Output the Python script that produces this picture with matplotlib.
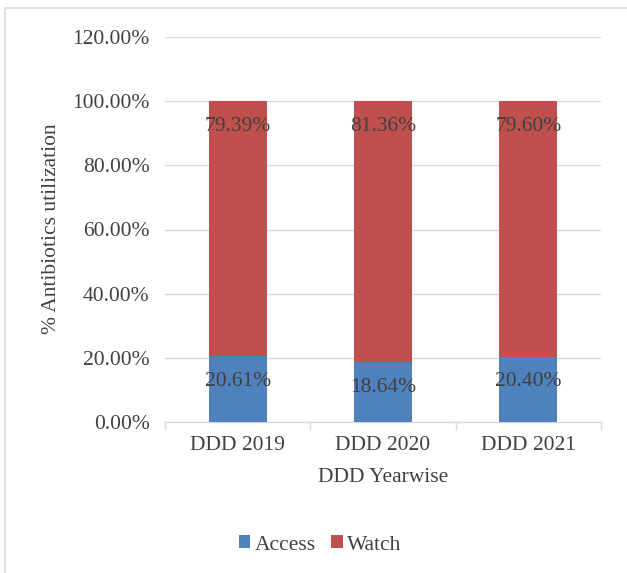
import matplotlib
matplotlib.use('Agg')
import matplotlib.pyplot as plt
from matplotlib.patches import Rectangle
from matplotlib.ticker import FuncFormatter

# antibiotic utilization share by year (percent of DDD)
years = ['DDD 2019', 'DDD 2020', 'DDD 2021']
access = [20.61, 18.64, 20.40]
watch = [79.39, 81.36, 79.60]

plt.rcParams['font.family'] = ['Liberation Serif', 'DejaVu Serif']
TEXT = '#404040'
BLUE = '#4F81BD'
RED = '#C0504D'
GRID = '#d9d9d9'
FS = 15.5

W, H = 627, 573
fig = plt.figure(figsize=(W / 100, H / 100), dpi=100)
ax = fig.add_axes([165 / W, 1 - 422 / H, 436 / W, (422 - 37) / H])

x = list(range(len(years)))
bw = 0.40
bars_a = ax.bar(x, access, bw, color=BLUE, label='Access', zorder=3)
bars_w = ax.bar(x, watch, bw, bottom=access, color=RED, label='Watch', zorder=3)

# labels sit just inside the top of each segment
off = 7.9
for rect, v in zip(bars_a, access):
    ax.text(rect.get_x() + rect.get_width() / 2, v - off, f'{v:.2f}%',
            ha='center', va='center', fontsize=FS, color=TEXT, zorder=4)
for rect, a, v in zip(bars_w, access, watch):
    ax.text(rect.get_x() + rect.get_width() / 2, a + v - off, f'{v:.2f}%',
            ha='center', va='center', fontsize=FS, color=TEXT, zorder=4)

ax.set_xlim(-0.5, 2.5)
ax.set_ylim(0, 120)
ax.set_yticks(range(0, 121, 20))
ax.yaxis.set_major_formatter(FuncFormatter(lambda v, p: f'{v:.2f}%'))
ax.set_xticks(x)
ax.set_xticklabels(years)
ax.grid(axis='y', color=GRID, linewidth=1, zorder=0)
for s in ['top', 'right', 'left']:
    ax.spines[s].set_visible(False)
ax.spines['bottom'].set_color(GRID)
ax.spines['bottom'].set_linewidth(1)
ax.tick_params(axis='y', length=0, pad=11, labelsize=FS, labelcolor=TEXT)
ax.tick_params(axis='x', length=0, pad=10, labelsize=FS, labelcolor=TEXT)

# category boundary ticks below the axis
ax.set_xticks([-0.5, 0.5, 1.5, 2.5], minor=True)
ax.tick_params(axis='x', which='minor', length=6, color=GRID, width=1)

fig.text(383 / W, 1 - 478 / H, 'DDD Yearwise', ha='center', va='center',
         fontsize=FS, color=TEXT)
fig.text(52 / W, 1 - 229 / H, '% Antibiotics utilization', ha='center', va='center',
         rotation=90, fontsize=FS, color=TEXT)

fig.legend(handles=[bars_a, bars_w], labels=['Access', 'Watch'], loc='center',
           bbox_to_anchor=(320 / W, 1 - 545 / H), ncol=2, frameon=False,
           fontsize=FS, labelcolor=TEXT, handlelength=0.55, handleheight=0.55,
           handletextpad=0.2, columnspacing=0.7, borderpad=0)

# chart area border
fig.patches.append(Rectangle((4.5 / W, -0.05), 1.2, 1.05 - 8 / H, transform=fig.transFigure,
                             fill=False, edgecolor=GRID, linewidth=1.2))

fig.savefig('out.png', dpi=100)
